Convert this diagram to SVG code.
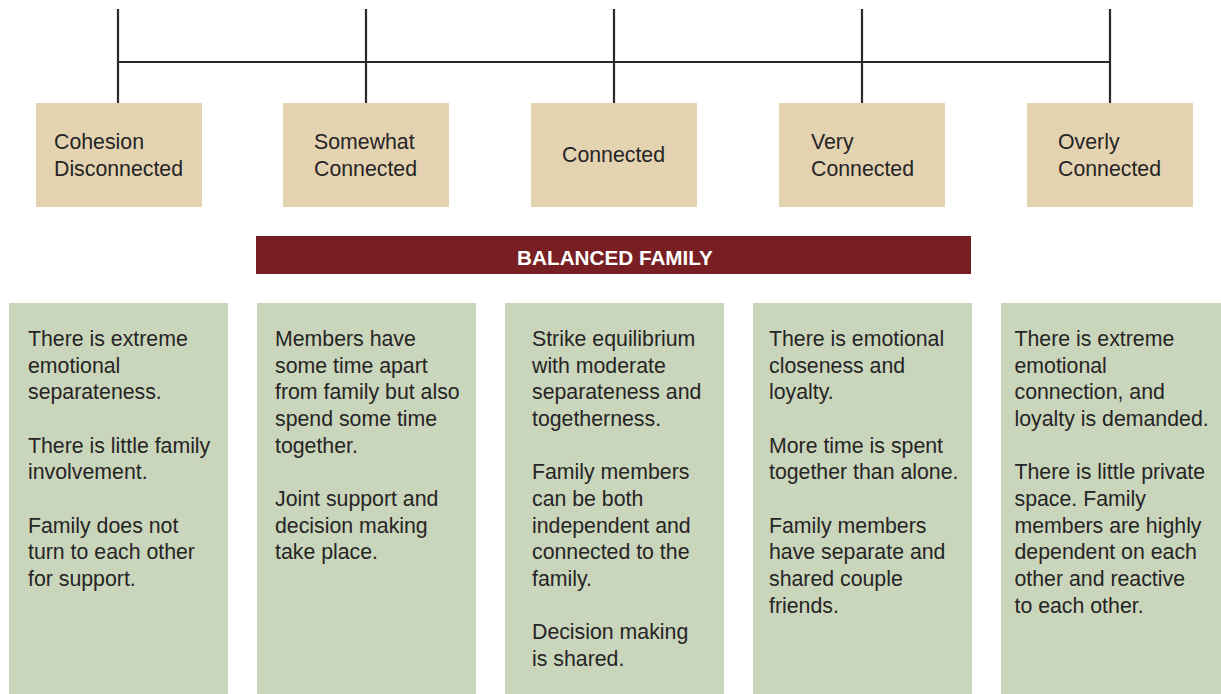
<svg xmlns="http://www.w3.org/2000/svg" width="1221" height="694" viewBox="0 0 1221 694">
<style>
.t{font-family:"Liberation Sans",Arial,sans-serif;font-size:21.3px;fill:#262425}
.hd{fill:#e3d3b1}
.bd{fill:#cad6bb}
.ln{stroke:#2a2828;stroke-width:2.2;fill:none}
.bar{fill:#771f23}
.bt{font-family:"Liberation Sans",Arial,sans-serif;font-size:20.7px;font-weight:bold;fill:#ffffff;text-anchor:middle}
</style>
<rect width="1221" height="694" fill="#ffffff"/>
<g id="connectors">
<line class="ln" x1="118" y1="62" x2="1110" y2="62"/>
<line class="ln" x1="118" y1="9" x2="118" y2="103"/>
<line class="ln" x1="366" y1="9" x2="366" y2="103"/>
<line class="ln" x1="614" y1="9" x2="614" y2="103"/>
<line class="ln" x1="862" y1="9" x2="862" y2="103"/>
<line class="ln" x1="1110" y1="9" x2="1110" y2="103"/>
</g>
<g id="h1"><rect class="hd" x="36" y="103" width="166" height="104"/><text class="t"><tspan x="54" y="149">Cohesion</tspan><tspan x="54" y="175.5">Disconnected</tspan></text></g>
<g id="h2"><rect class="hd" x="283" y="103" width="166" height="104"/><text class="t"><tspan x="314" y="149">Somewhat</tspan><tspan x="314" y="175.5">Connected</tspan></text></g>
<g id="h3"><rect class="hd" x="531" y="103" width="166" height="104"/><text class="t"><tspan x="562" y="162">Connected</tspan></text></g>
<g id="h4"><rect class="hd" x="779" y="103" width="166" height="104"/><text class="t"><tspan x="811" y="149">Very</tspan><tspan x="811" y="175.5">Connected</tspan></text></g>
<g id="h5"><rect class="hd" x="1027" y="103" width="166" height="104"/><text class="t"><tspan x="1058" y="149">Overly</tspan><tspan x="1058" y="175.5">Connected</tspan></text></g>
<g id="balanced"><rect class="bar" x="256" y="236" width="715" height="38"/><text class="bt" x="615" y="265">BALANCED FAMILY</text></g>
<g id="b1"><rect class="bd" x="9" y="303" width="219" height="391"/><text class="t">
<tspan x="28" y="346">There is extreme</tspan>
<tspan x="28" y="372.67">emotional</tspan>
<tspan x="28" y="399.33">separateness.</tspan>
<tspan x="28" y="452.67">There is little family</tspan>
<tspan x="28" y="479.33">involvement.</tspan>
<tspan x="28" y="532.67">Family does not</tspan>
<tspan x="28" y="559.33">turn to each other</tspan>
<tspan x="28" y="586">for support.</tspan>
</text></g>
<g id="b2"><rect class="bd" x="257" y="303" width="219" height="391"/><text class="t">
<tspan x="275" y="346">Members have</tspan>
<tspan x="275" y="372.67">some time apart</tspan>
<tspan x="275" y="399.33">from family but also</tspan>
<tspan x="275" y="426">spend some time</tspan>
<tspan x="275" y="452.67">together.</tspan>
<tspan x="275" y="506">Joint support and</tspan>
<tspan x="275" y="532.67">decision making</tspan>
<tspan x="275" y="559.33">take place.</tspan>
</text></g>
<g id="b3"><rect class="bd" x="505" y="303" width="219" height="391"/><text class="t">
<tspan x="532" y="346">Strike equilibrium</tspan>
<tspan x="532" y="372.67">with moderate</tspan>
<tspan x="532" y="399.33">separateness and</tspan>
<tspan x="532" y="426">togetherness.</tspan>
<tspan x="532" y="479.33">Family members</tspan>
<tspan x="532" y="506">can be both</tspan>
<tspan x="532" y="532.67">independent and</tspan>
<tspan x="532" y="559.33">connected to the</tspan>
<tspan x="532" y="586">family.</tspan>
<tspan x="532" y="639.33">Decision making</tspan>
<tspan x="532" y="666">is shared.</tspan>
</text></g>
<g id="b4"><rect class="bd" x="753" y="303" width="219" height="391"/><text class="t">
<tspan x="769" y="346">There is emotional</tspan>
<tspan x="769" y="372.67">closeness and</tspan>
<tspan x="769" y="399.33">loyalty.</tspan>
<tspan x="769" y="452.67">More time is spent</tspan>
<tspan x="769" y="479.33">together than alone.</tspan>
<tspan x="769" y="532.67">Family members</tspan>
<tspan x="769" y="559.33">have separate and</tspan>
<tspan x="769" y="586">shared couple</tspan>
<tspan x="769" y="612.67">friends.</tspan>
</text></g>
<g id="b5"><rect class="bd" x="1001" y="303" width="220" height="391"/><text class="t">
<tspan x="1014.5" y="346">There is extreme</tspan>
<tspan x="1014.5" y="372.67">emotional</tspan>
<tspan x="1014.5" y="399.33">connection, and</tspan>
<tspan x="1014.5" y="426">loyalty is demanded.</tspan>
<tspan x="1014.5" y="479.33">There is little private</tspan>
<tspan x="1014.5" y="506">space. Family</tspan>
<tspan x="1014.5" y="532.67">members are highly</tspan>
<tspan x="1014.5" y="559.33">dependent on each</tspan>
<tspan x="1014.5" y="586">other and reactive</tspan>
<tspan x="1014.5" y="612.67">to each other.</tspan>
</text></g>
</svg>
